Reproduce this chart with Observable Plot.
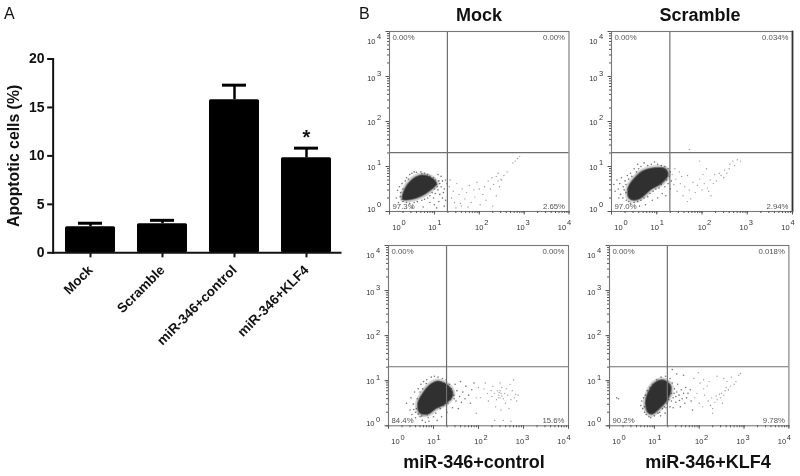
<!DOCTYPE html>
<html><head><meta charset="utf-8">
<script src="https://cdn.jsdelivr.net/npm/d3@7"></script>
<script src="https://cdn.jsdelivr.net/npm/@observablehq/plot@0.6"></script>
<style>
html,body{margin:0;padding:0;background:#fff;overflow:hidden}
#page{position:relative;width:800px;height:476px;font-family:"Liberation Sans",Arial,sans-serif;filter:blur(.35px)}
#page svg{position:absolute;background:transparent;max-width:none}
.t{position:absolute;color:#111;white-space:nowrap;line-height:1}
.b{font-weight:bold;font-size:18px;transform:translateX(-50%)}
</style></head><body><div id="page"></div>
<script>
// Panel A
const groups = ["Mock","Scramble","miR-346+control","miR-346+KLF4"];
const apoptotic = [2.7,3.0,15.8,9.8];
const errorTop = [3.05,3.35,17.3,10.8];
const yTicks = [0,5,10,15,20];

// Panel B: values are log10 fluorescence
const exponents = [0,1,2,3,4];
const gate = [1.29,1.31];
const mockLabels = ["0.00%","0.00%","97.3%","2.65%"];
const scrambleLabels = ["0.00%","0.034%","97.0%","2.94%"];
const controlLabels = ["0.00%","0.00%","84.4%","15.6%"];
const klf4Labels = ["0.00%","0.018%","90.2%","9.78%"];

const mockCore = [[.30,.28],[.35,.5],[.48,.68],[.66,.79],[.88,.77],[1.04,.62],[.88,.46],[.70,.35],[.48,.28]];
const mockHalo = [[.15,.3],[.22,.55],[.25,.42],[.28,.62],[.3,.22],[.2,.2],[.35,.68],[.38,.75],[.42,.72],[.45,.82],[.5,.85],[.55,.88],[.6,.87],[.7,.88],[.78,.85],[.85,.82],[.9,.78],[.98,.75],[1.02,.7],[1.08,.82],[1.15,.78],[1.05,.6],[1.12,.62],[1.18,.68],[1.25,.7],[1.28,.62],[1.0,.5],[1.08,.48],[1.15,.55],[1.22,.5],[.95,.42],[1.02,.4],[.9,.35],[.98,.3],[.85,.3],[.78,.27],[.72,.25],[.62,.22],[.55,.2],[.45,.18],[.38,.2],[.28,.27],[.9,.2],[1.0,.15],[1.1,.22],[1.18,.3],[1.25,.25],[1.22,.12],[1.05,.08],[.75,.1],[.5,.08],[1.12,.38],[1.2,.42],[.88,.5],[.95,.6],[.85,.7],[1.0,.65],[.93,.72],[1.06,.55],[1.1,.68],[.24,.33],[.18,.47],[.3,.5],[.82,.76],[.72,.84]];
const mockSparse = [[1.33,.55],[1.38,.3],[1.42,.45],[1.45,.2],[1.5,.62],[1.55,.38],[1.58,.18],[1.62,.5],[1.68,.28],[1.72,.42],[1.78,.58],[1.82,.2],[1.88,.48],[1.9,.32],[1.95,.65],[2.0,.5],[2.02,.15],[2.08,.38],[2.12,.55],[2.15,.25],[2.2,.68],[2.25,.5],[2.28,.75],[2.32,.6],[2.38,.78],[2.42,.68],[2.45,.55],[2.48,.72],[2.5,.7],[2.38,.35],[1.35,.7],[1.6,.12],[1.75,.1],[2.3,.12],[2.42,.85],[2.55,.8],[2.62,.88],[2.8,1.12],[2.85,1.18],[2.9,1.22],[2.75,1.08],[1.48,.08]];

const scrambleCore = [[.39,.31],[.38,.53],[.50,.72],[.69,.89],[.94,.96],[1.19,.94],[1.24,.81],[1.11,.64],[.87,.5],[.65,.31],[.5,.26]];
const scrambleHalo = [[.05,.6],[.08,.45],[.12,.7],[.15,.5],[.18,.62],[.2,.38],[.22,.75],[.25,.3],[.26,.55],[.3,.68],[.32,.42],[.33,.25],[.35,.8],[.38,.72],[.42,.85],[.45,.78],[.5,.95],[.55,.88],[.58,1.05],[.6,.95],[.65,1.0],[.72,1.08],[.8,1.02],[.88,1.05],[.95,1.1],[1.02,1.05],[1.1,1.02],[1.18,1.0],[1.25,.95],[1.3,.88],[1.28,.78],[1.32,.68],[1.25,.62],[1.22,.7],[1.18,.55],[1.1,.6],[1.05,.52],[.98,.5],[.92,.45],[.85,.4],[.8,.33],[.72,.3],[.65,.25],[.58,.22],[.5,.2],[.42,.18],[.38,.22],[.9,.25],[1.02,.3],[1.12,.4],[1.2,.35],[.75,.15],[.28,.48],[.32,.6],[1.3,.5],[.16,.3],[.62,.12],[.95,.55],[1.05,.62],[.88,.52],[.72,.42],[.44,.28],[.36,.5]];
const scrambleSparse = [[1.34,.82],[1.38,.6],[1.42,.72],[1.45,.45],[1.5,.88],[1.52,.62],[1.58,.35],[1.62,.55],[1.68,.8],[1.72,.48],[1.75,.28],[1.8,.65],[1.85,.42],[1.9,.58],[1.95,.72],[2.0,.48],[2.02,.82],[2.05,.62],[2.1,.95],[2.12,.52],[2.18,.7],[2.2,.35],[2.25,.62],[2.28,.82],[2.32,.68],[2.38,.85],[2.42,.8],[2.48,.75],[2.5,.92],[2.55,.85],[2.6,.95],[2.62,1.05],[2.68,1.12],[2.72,1.02],[2.78,1.15],[2.85,1.12],[1.72,1.38],[1.95,1.12],[1.68,.22],[2.15,.45],[1.4,.95],[1.55,.78]];

const controlCore = [[.70,.29],[.66,.5],[.77,.72],[.92,.9],[1.1,.98],[1.34,.87],[1.42,.68],[1.27,.5],[1.05,.39],[.88,.27]];
const controlHalo = [[.4,.5],[.48,.35],[.5,.62],[.52,.25],[.55,.48],[.58,.75],[.6,.18],[.62,.38],[.64,.6],[.66,.82],[.7,.2],[.72,.92],[.75,.12],[.78,.98],[.82,.08],[.85,1.02],[.88,.18],[.9,.1],[.95,1.08],[1.0,.2],[1.02,1.1],[1.05,.28],[1.08,.12],[1.1,1.08],[1.15,.38],[1.18,.2],[1.2,1.05],[1.22,.45],[1.28,1.02],[1.3,.3],[1.32,.5],[1.35,.92],[1.38,.58],[1.4,.82],[1.42,.4],[1.45,.68],[1.48,.92],[1.5,.55],[1.52,.78],[1.55,.38],[1.58,.65],[1.6,.98],[1.62,.52],[1.65,.75],[1.7,.6],[1.72,.88],[1.78,.68],[1.82,.5],[1.85,.8],[1.9,.95],[1.35,.72],[1.42,.75],[1.46,.6],[.6,.3],[.56,.36],[.66,.26],[.74,.22],[.86,.24],[1.12,.42],[1.02,.4],[.7,.75],[.76,.82],[.84,.94]];
const controlSparse = [[1.95,.28],[2.0,.85],[2.05,.62],[2.12,.82],[2.15,.95],[2.2,.72],[2.22,.55],[2.28,.78],[2.3,.65],[2.32,.88],[2.35,.72],[2.38,.42],[2.4,.58],[2.42,.78],[2.45,.68],[2.48,.95],[2.48,.62],[2.5,.72],[2.5,.35],[2.52,.85],[2.55,.6],[2.55,.12],[2.58,.72],[2.6,.5],[2.62,.82],[2.65,.68],[2.68,.38],[2.7,.92],[2.72,.58],[2.75,.78],[2.78,1.02],[2.8,.62],[2.82,.7],[2.85,.55],[2.88,.68],[2.48,.78],[2.44,.62],[2.36,.12],[2.72,.1],[1.95,.62],[2.52,.66],[2.46,.74]];

const klf4Core = [[.87,.29],[.81,.5],[.86,.72],[1.0,.94],[1.18,1.01],[1.35,.9],[1.35,.72],[1.24,.52],[1.08,.36],[.96,.27]];
const klf4Halo = [[.7,.45],[.72,.55],[.74,.38],[.76,.62],[.78,.3],[.8,.68],[.82,.25],[.84,.78],[.88,.2],[.9,.85],[.92,.18],[.96,.92],[1.0,.22],[1.05,1.02],[1.08,.28],[1.12,.3],[1.15,1.08],[1.18,.38],[1.22,.42],[1.25,1.1],[1.28,.5],[1.32,.58],[1.35,1.05],[1.38,.72],[1.4,.95],[1.42,.62],[1.45,.82],[1.48,.52],[1.5,.75],[1.52,.92],[1.55,.68],[1.58,.42],[1.6,.8],[1.62,.6],[1.65,.72],[1.68,.5],[1.7,.85],[1.72,.62],[1.75,.72],[1.8,.8],[1.82,.55],[1.38,.55],[1.42,.4],[1.35,.42],[1.3,.98],[1.44,.72],[1.48,.65],[1.56,.56],[1.26,.4],[1.14,.22],[.94,.36],[.86,.4],[.92,.8],[.78,.42],[1.24,.28],[1.85,.35],[.16,.62],[.2,.6],[1.4,1.25],[1.5,1.15],[1.65,1.12]];
const klf4Sparse = [[1.9,.62],[1.95,.72],[2.0,.5],[2.02,.95],[2.08,.42],[2.1,.82],[2.12,.68],[2.18,.88],[2.2,.55],[2.25,.45],[2.28,.62],[2.3,.38],[2.35,.52],[2.38,.66],[2.4,.58],[2.45,.7],[2.48,.62],[2.5,.72],[2.52,.5],[2.55,.68],[2.58,.78],[2.6,.85],[2.62,.98],[2.65,.8],[2.7,.88],[2.72,1.08],[2.78,.92],[2.82,.98],[2.88,1.12],[2.92,1.16],[2.4,1.1],[2.55,1.05],[2.1,1.02],[1.98,1.18],[1.88,1.05],[2.22,.98],[2.3,.28]];

const logX = d => 10 ** d[0];
const logY = d => 10 ** d[1];
const minorTicks = exponents.slice(0,4).flatMap(e => [1,2,3,4,5,6,7,8,9].map(m => m * 10 ** e)).concat(10000);
const majorTicks = exponents.map(e => 10 ** e);
const page = document.getElementById("page");

// Bar chart
const rows = groups.map((g,i) => ({g, v: apoptotic[i], top: errorTop[i]}));
const A = Plot.plot({
  width:345, height:360, marginTop:58.5, marginBottom:107.7, marginLeft:52.65, marginRight:5,
  style:{fontFamily:'"Liberation Sans",Arial,sans-serif', color:"#111", background:"transparent"},
  x:{type:"band", domain:groups, range:[52.65,343.35], paddingInner:.312, paddingOuter:.156, label:null},
  y:{domain:[0,20], label:null},
  marks:[
    Plot.ruleX(rows,{x:"g", y1:"v", y2:"top", stroke:"#000", strokeWidth:2.5}),
    Plot.tickY(rows,{x:"g", y:"top", stroke:"#000", strokeWidth:3, insetLeft:13, insetRight:13}),
    Plot.barY(rows,{x:"g", y:"v", fill:"#000", rx:1.5}),
    Plot.frame({anchor:"left", stroke:"#111", strokeWidth:2}),
    Plot.frame({anchor:"bottom", stroke:"#111", strokeWidth:2}),
    Plot.axisY({ticks:yTicks, tickSize:5.5, strokeWidth:2, tickPadding:3, fontSize:14, fontWeight:"bold", label:null, tickFormat:d=>d}),
    Plot.text(["Apoptotic cells (%)"],{frameAnchor:"left", dx:-39.6, rotate:-90, fontSize:15.8, fontWeight:"bold", fill:"#111", textAnchor:"middle"}),
    Plot.axisX({tickSize:5, strokeWidth:2, tickRotate:-45, fontSize:13.5, fontWeight:"bold", tickPadding:10, label:null, textAnchor:"end"}),
    Plot.text(["miR-346+KLF4"],{x:d=>d, y:()=>11.9, text:()=>"*", fontSize:20, fontWeight:"bold", fill:"#111"})
  ]
});
A.style.left="0px"; A.style.top="0px";
page.append(A);

function flow(left, top, w, h, labels, core, halo, sparse, rightEdge){
  const mL=34, mT=8, mR=4, mB=26;
  const xOff={0:9,1:0,2:2,3:-1.5,4:-5}, yOff={0:-2,1:1,2:1,3:2,4:10};
  const blob = c => Plot.line(core,{x:logX,y:logY,stroke:"#2e2e2e",...c,curve:"catmull-rom-closed"});
  const p = Plot.plot({
    width:w+mL+mR, height:h+mT+mB, marginLeft:mL, marginTop:mT, marginRight:mR, marginBottom:mB,
    style:{fontFamily:'"Liberation Sans",Arial,sans-serif', background:"transparent"},
    x:{type:"log", domain:[1,10000], label:null},
    y:{type:"log", domain:[1,10000], label:null},
    marks:[
      Plot.dot(sparse,{x:logX,y:logY,r:.7,fill:"#666",fillOpacity:.65}),
      blob({strokeWidth:6,strokeOpacity:.22}),
      blob({strokeWidth:2.5,strokeOpacity:.5}),
      blob({fill:"#303030",strokeWidth:.5}),
      Plot.dot(halo,{x:logX,y:logY,r:.8,fill:"#3a3a3a",fillOpacity:.7}),
      Plot.ruleX([10**gate[0]],{stroke:"#6f6f6f",strokeWidth:1.2}),
      Plot.ruleY([10**gate[1]],{stroke:"#6f6f6f",strokeWidth:1.2}),
      Plot.frame({stroke:"#777",strokeWidth:1.1}),
      ...(rightEdge ? [Plot.frame({anchor:"right",stroke:"#333",strokeWidth:1.8})] : []),
      Plot.axisX({ticks:minorTicks,tickSize:2,tickFormat:null,stroke:"#555",text:null}),
      Plot.axisY({ticks:minorTicks,tickSize:2,tickFormat:null,stroke:"#555",text:null}),
      Plot.axisX({ticks:majorTicks,tickSize:3.5,tickFormat:null,stroke:"#555",text:null}),
      Plot.axisY({ticks:majorTicks,tickSize:3.5,tickFormat:null,stroke:"#555",text:null}),
      ...exponents.flatMap(e=>[
        Plot.text([e],{x:d=>10**d, frameAnchor:"bottom", lineAnchor:"middle", dy:16, dx:xOff[e]-2, text:()=>"10", fontSize:7.5, fill:"#333"}),
        Plot.text([e],{x:d=>10**d, frameAnchor:"bottom", lineAnchor:"middle", dy:11.5, dx:xOff[e]+5, text:d=>String(d), fontSize:7.5, fill:"#333"}),
        Plot.text([e],{y:d=>10**d, frameAnchor:"left", textAnchor:"end", dx:-14, dy:yOff[e], text:()=>"10", fontSize:7.5, fill:"#333"}),
        Plot.text([e],{y:d=>10**d, frameAnchor:"left", textAnchor:"start", dx:-12.5, dy:yOff[e]-4.5, text:d=>String(d), fontSize:7.5, fill:"#333"})
      ]),
      Plot.text([labels[0]],{frameAnchor:"top-left",dx:3,dy:3,fontSize:7.8,fill:"#555",textAnchor:"start"}),
      Plot.text([labels[1]],{frameAnchor:"top-right",dx:-4,dy:3,fontSize:7.8,fill:"#555",textAnchor:"end"}),
      Plot.text([labels[2]],{frameAnchor:"bottom-left",dx:3,dy:-3,fontSize:7.8,fill:"#555",textAnchor:"start"}),
      Plot.text([labels[3]],{frameAnchor:"bottom-right",dx:-4,dy:-3,fontSize:7.8,fill:"#555",textAnchor:"end"})
    ]
  });
  p.style.left=(left-mL)+"px"; p.style.top=(top-mT)+"px";
  page.append(p);
}
flow(388.5,30.7,179.5,180,mockLabels,mockCore,mockHalo,mockSparse);
flow(610.7,30.7,181,180,scrambleLabels,scrambleCore,scrambleHalo,scrambleSparse,true);
flow(388,244.7,180,180.3,controlLabels,controlCore,controlHalo,controlSparse);
flow(609.3,244.7,179.4,180.3,klf4Labels,klf4Core,klf4Halo,klf4Sparse);

function label(text,x,y,cls,size){
  const d=document.createElement("div");
  d.className="t "+cls; d.textContent=text;
  d.style.left=x+"px"; d.style.top=y+"px";
  if(size) d.style.fontSize=size+"px";
  page.append(d);
}
label("A",4,6,"",16);
label("B",359,6,"",16);
label("Mock",479,6,"b");
label("Scramble",700,6,"b");
label("miR-346+control",474,453,"b");
label("miR-346+KLF4",708,453,"b");
</script></body></html>
